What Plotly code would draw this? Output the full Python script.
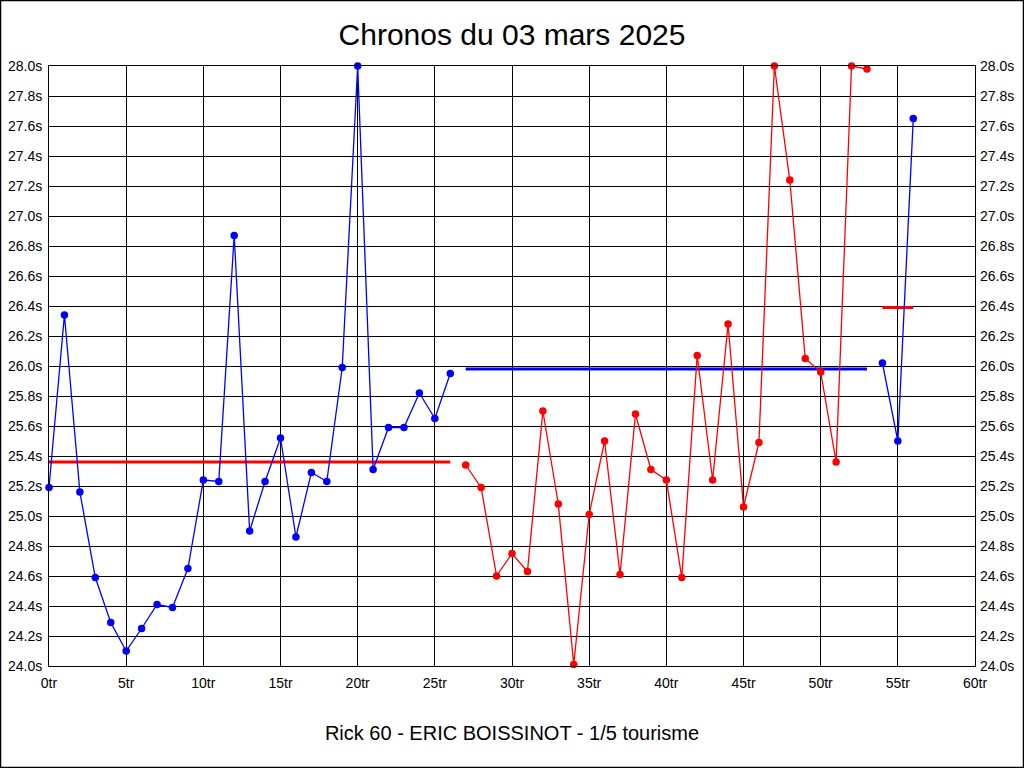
import plotly.graph_objects as go

# Lap numbers and times (seconds)
laps_blue1 = list(range(0, 27))
times_blue1 = [25.19, 26.34, 25.16, 24.59, 24.29, 24.10, 24.25, 24.41, 24.39, 24.65,
               25.24, 25.23, 26.87, 24.90, 25.23, 25.52, 24.86, 25.29, 25.23, 25.99,
               28.00, 25.31, 25.59, 25.59, 25.82, 25.65, 25.95]
laps_red = list(range(27, 54))
times_red = [25.34, 25.19, 24.60, 24.75, 24.63, 25.70, 25.08, 24.01, 25.01, 25.50,
             24.61, 25.68, 25.31, 25.24, 24.59, 26.07, 25.24, 26.28, 25.06, 25.49,
             28.00, 27.24, 26.05, 25.96, 25.36, 28.00, 27.98]
laps_blue2 = [54, 55, 56]
times_blue2 = [26.02, 25.50, 27.65]

# Average lines: [start lap, end lap, value]
avg_red_1 = [0, 26, 25.36]
avg_blue = [27, 53, 25.98]
avg_red_2 = [54, 56, 26.39]

x_ticks = list(range(0, 61, 5))
x_tick_labels = [f"{v}tr" for v in x_ticks]
y_ticks = [round(24.0 + 0.2 * i, 1) for i in range(21)]
y_tick_labels = [f"{v:.1f}s" for v in y_ticks]

BLUE = "#0000ff"
RED = "#ff0000"
FONT = "Liberation Sans, Arial, sans-serif"

fig = go.Figure()

def data_trace(x, y, color):
    fig.add_trace(go.Scatter(x=x, y=y, mode="lines+markers",
                             line=dict(color=color, width=1.3),
                             marker=dict(color=color, size=7.5),
                             showlegend=False, hoverinfo="x+y", cliponaxis=False))

def avg_trace(seg, color):
    fig.add_trace(go.Scatter(x=[seg[0], seg[1]], y=[seg[2], seg[2]], mode="lines",
                             line=dict(color=color, width=3),
                             showlegend=False, hoverinfo="y"))

avg_trace(avg_red_1, RED)
avg_trace(avg_blue, BLUE)
avg_trace(avg_red_2, RED)
data_trace(laps_blue1, times_blue1, BLUE)
data_trace(laps_red, times_red, RED)
data_trace(laps_blue2, times_blue2, BLUE)

# invisible trace for right axis
fig.add_trace(go.Scatter(x=[0], y=[24.0], yaxis="y2", mode="markers",
                         marker=dict(opacity=0), showlegend=False, hoverinfo="skip"))

axis_font = dict(family=FONT, size=14, color="black")

fig.update_layout(
    width=1024, height=768,
    margin=dict(l=49, r=49, t=66, b=102, autoexpand=False),
    paper_bgcolor="white", plot_bgcolor="white",
    title=dict(text="Chronos du 03 mars 2025", x=0.5, xanchor="center",
               y=1 - 34 / 768, yanchor="middle",
               font=dict(family=FONT, size=30, color="black")),
    xaxis=dict(range=[0, 60], tickvals=x_ticks, ticktext=x_tick_labels,
               showgrid=True, gridcolor="black", gridwidth=1,
               showline=True, linecolor="black", linewidth=1, mirror=True,
               zeroline=False, ticks="", tickfont=axis_font, ticklabelstandoff=4,
               automargin=False,
               title=dict(text="Rick 60 - ERIC BOISSINOT - 1/5 tourisme",
                          font=dict(family=FONT, size=20, color="black"),
                          standoff=36)),
    yaxis=dict(range=[24.0, 28.0], tickvals=y_ticks, ticktext=y_tick_labels,
               showgrid=True, gridcolor="black", gridwidth=1,
               showline=True, linecolor="black", linewidth=1, mirror=True,
               zeroline=False, ticks="", tickfont=axis_font, ticklabelstandoff=3,
               automargin=False),
    yaxis2=dict(range=[24.0, 28.0], tickvals=y_ticks, ticktext=y_tick_labels,
                overlaying="y", side="right", showgrid=False, zeroline=False,
                ticks="", tickfont=axis_font, showline=False, ticklabelstandoff=4,
                automargin=False),
    shapes=[dict(type="rect", xref="paper", yref="paper",
                 x0=-48.5 / 926, x1=1 + 48.5 / 926,
                 y0=-101.5 / 600, y1=1 + 65.5 / 600,
                 line=dict(color="black", width=1.5), layer="above")],
)

fig.write_html("out.html", config={"displayModeBar": False},
               post_script="document.body.style.margin='0';document.body.style.overflow='hidden';")
